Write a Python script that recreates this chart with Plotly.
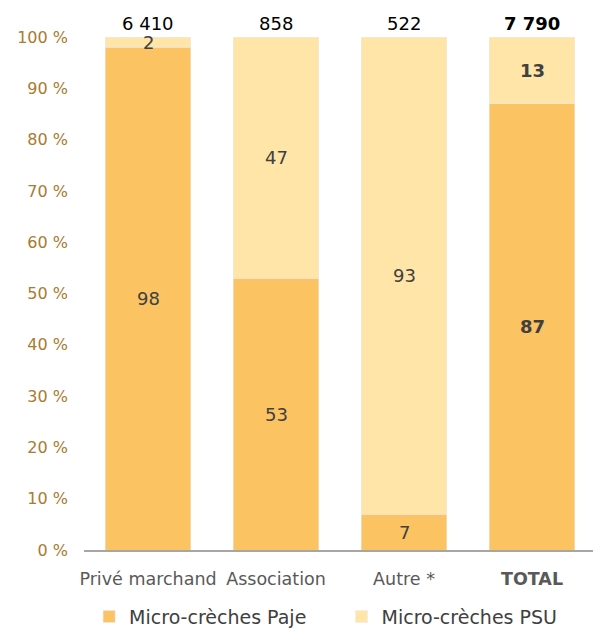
import plotly.graph_objects as go

categories = ["Privé marchand", "Association", "Autre *", "TOTAL"]
paje = [98, 53, 7, 87]
psu = [2, 47, 93, 13]
totals = ["6 410", "858", "522", "7 790"]

cat_labels = categories[:-1] + ["<b>TOTAL</b>"]
font = "'DejaVu Sans', sans-serif"

fig = go.Figure()
# espaces insécables pour écarter les deux entrées de légende
fig.add_bar(x=cat_labels, y=paje, name="Micro-crèches Paje" + "\u00a0" * 5,
            marker_color="#FBC362")
fig.add_bar(x=cat_labels, y=psu, name="Micro-crèches PSU", marker_color="#FFE5A8")

# valeurs dans les barres + effectifs au-dessus
for i, c in enumerate(cat_labels):
    last = i == len(cat_labels) - 1
    for y, v in [(paje[i] / 2, paje[i]), (paje[i] + psu[i] / 2, psu[i])]:
        txt = "<b>%d</b>" % v if last else str(v)
        fig.add_annotation(x=c, y=y, text=txt, showarrow=False,
                           font=dict(size=18, color="#404040", family=font))
    t = "<b>" + totals[i] + "</b>" if last else totals[i]
    fig.add_annotation(x=c, y=100, text=t, showarrow=False, yanchor="bottom",
                       yshift=1, font=dict(size=18, color="#000000", family=font))

fig.update_layout(
    barmode="stack", bargap=0.335,
    width=593, height=621,
    margin=dict(l=76, r=5, t=29, b=79, autoexpand=False),
    plot_bgcolor="white", paper_bgcolor="white",
    font=dict(family=font, size=18, color="#595959"),
    legend=dict(orientation="h", x=0.01, xanchor="left", y=-0.13, yanchor="middle",
                font=dict(size=19, color="#404040"), traceorder="normal",
                bgcolor="rgba(0,0,0,0)", itemwidth=30),
)
fig.update_xaxes(showline=True, linecolor="#A6A6A6", linewidth=2, ticks="",
                 ticklabelstandoff=12,
                 tickfont=dict(size=17.5, color="#595959"))
fig.update_yaxes(range=[0, 100], dtick=10, ticksuffix=" %", showgrid=False,
                 zeroline=False, showline=False, ticklabelstandoff=15,
                 tickfont=dict(size=16, color="#A87B30"))

fig.write_html("out.html")
